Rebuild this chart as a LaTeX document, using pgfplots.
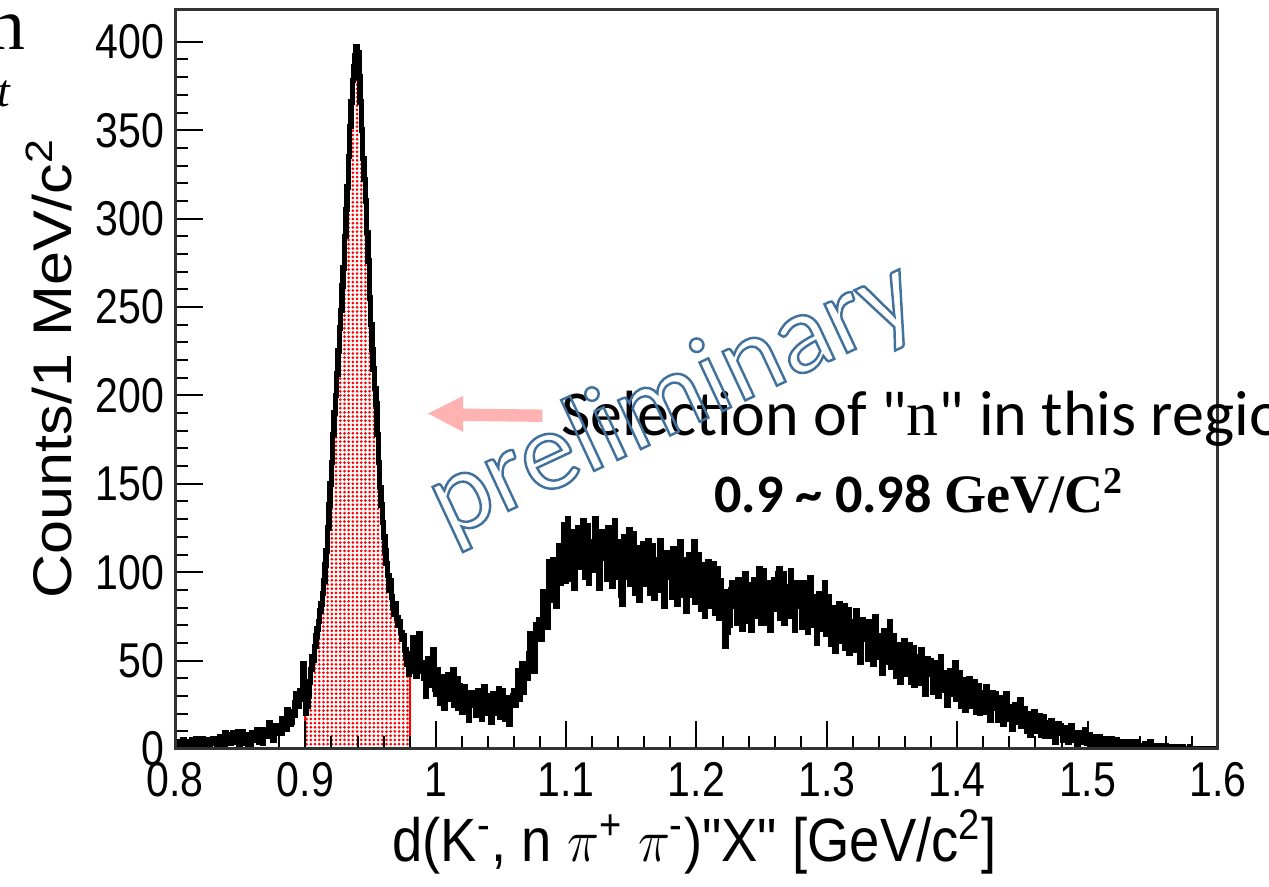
\documentclass[border=0pt]{standalone}
\usepackage{fontspec}
\usepackage{pgfplots}
\usepackage{pgfplotstable}
\pgfplotsset{compat=1.18}
\usetikzlibrary{patterns.meta}

\newfontfamily\rootsans{Liberation Sans}
\newfontfamily\calibri{Carlito}
\newfontfamily\cambria{Liberation Serif}

\definecolor{arrowpink}{RGB}{255,178,178}
\definecolor{prelblue}{RGB}{65,113,156}

% counts per 1 MeV/c^2 bin; one row of ten bins per 10 MeV, from 0.800 up to 1.600
\pgfplotstableread[row sep=\\]{
counts\\
2\\ 0\\ 3\\ 4\\ 1\\ 2\\ 5\\ 1\\ 3\\ 2\\
4\\ 2\\ 1\\ 5\\ 3\\ 2\\ 6\\ 3\\ 1\\ 4\\
3\\ 6\\ 4\\ 2\\ 3\\ 5\\ 1\\ 5\\ 4\\ 6\\
5\\ 3\\ 1\\ 6\\ 7\\ 3\\ 4\\ 2\\ 9\\ 3\\
8\\ 5\\ 3\\ 6\\ 9\\ 4\\ 5\\ 4\\ 10\\ 2\\
5\\ 10\\ 7\\ 3\\ 6\\ 8\\ 2\\ 8\\ 7\\ 9\\
9\\ 5\\ 8\\ 11\\ 4\\ 7\\ 11\\ 3\\ 9\\ 7\\
7\\ 11\\ 15\\ 8\\ 10\\ 5\\ 12\\ 13\\ 9\\ 12\\
11\\ 9\\ 17\\ 13\\ 17\\ 11\\ 22\\ 21\\ 14\\ 15\\
21\\ 19\\ 26\\ 31\\ 24\\ 28\\ 33\\ 30\\ 48\\ 28\\
20\\ 24\\ 30\\ 38\\ 45\\ 52\\ 50\\ 58\\ 64\\ 68\\
72\\ 78\\ 82\\ 88\\ 95\\ 104\\ 112\\ 125\\ 138\\ 150\\
162\\ 178\\ 190\\ 200\\ 212\\ 225\\ 238\\ 248\\ 262\\ 272\\
290\\ 305\\ 318\\ 335\\ 352\\ 366\\ 378\\ 386\\ 392\\ 397\\
394\\ 380\\ 366\\ 350\\ 334\\ 322\\ 310\\ 292\\ 276\\ 255\\
240\\ 226\\ 215\\ 204\\ 195\\ 178\\ 162\\ 148\\ 138\\ 128\\
120\\ 112\\ 105\\ 98\\ 90\\ 95\\ 86\\ 80\\ 76\\ 82\\
74\\ 70\\ 72\\ 66\\ 62\\ 64\\ 56\\ 52\\ 48\\ 42\\
54\\ 44\\ 63\\ 49\\ 58\\ 41\\ 53\\ 65\\ 47\\ 44\\
49\\ 40\\ 30\\ 46\\ 51\\ 36\\ 43\\ 39\\ 56\\ 34\\
31\\ 45\\ 37\\ 26\\ 34\\ 41\\ 23\\ 40\\ 37\\ 42\\
38\\ 28\\ 34\\ 45\\ 25\\ 32\\ 40\\ 23\\ 36\\ 31\\
21\\ 29\\ 35\\ 22\\ 28\\ 16\\ 30\\ 32\\ 25\\ 30\\
27\\ 19\\ 33\\ 23\\ 29\\ 17\\ 26\\ 35\\ 21\\ 20\\
30\\ 23\\ 15\\ 27\\ 31\\ 20\\ 25\\ 22\\ 34\\ 18\\
21\\ 33\\ 26\\ 17\\ 23\\ 29\\ 14\\ 28\\ 26\\ 30\\
33\\ 25\\ 33\\ 44\\ 28\\ 37\\ 48\\ 32\\ 47\\ 44\\
40\\ 54\\ 65\\ 48\\ 59\\ 44\\ 65\\ 70\\ 62\\ 73\\
73\\ 62\\ 89\\ 74\\ 88\\ 69\\ 88\\ 106\\ 85\\ 84\\
107\\ 94\\ 81\\ 106\\ 115\\ 94\\ 105\\ 100\\ 127\\ 95\\
106\\ 130\\ 116\\ 96\\ 110\\ 123\\ 91\\ 121\\ 115\\ 125\\
120\\ 103\\ 114\\ 129\\ 97\\ 111\\ 126\\ 94\\ 117\\ 108\\
101\\ 116\\ 130\\ 103\\ 115\\ 91\\ 118\\ 123\\ 108\\ 120\\
112\\ 96\\ 125\\ 105\\ 118\\ 92\\ 111\\ 129\\ 102\\ 97\\
117\\ 103\\ 87\\ 82\\ 120\\ 97\\ 107\\ 101\\ 124\\ 93\\
98\\ 122\\ 108\\ 88\\ 102\\ 114\\ 84\\ 113\\ 107\\ 116\\
110\\ 93\\ 104\\ 118\\ 88\\ 101\\ 115\\ 85\\ 107\\ 98\\
90\\ 105\\ 118\\ 92\\ 104\\ 81\\ 107\\ 111\\ 97\\ 109\\
101\\ 86\\ 113\\ 94\\ 106\\ 82\\ 100\\ 117\\ 91\\ 87\\
107\\ 93\\ 78\\ 102\\ 110\\ 87\\ 97\\ 91\\ 117\\ 83\\
88\\ 110\\ 98\\ 79\\ 92\\ 104\\ 75\\ 103\\ 97\\ 106\\
98\\ 81\\ 92\\ 105\\ 77\\ 89\\ 102\\ 74\\ 95\\ 86\\
75\\ 89\\ 58\\ 66\\ 88\\ 70\\ 90\\ 94\\ 81\\ 92\\
85\\ 71\\ 96\\ 78\\ 89\\ 68\\ 84\\ 99\\ 76\\ 72\\
93\\ 80\\ 67\\ 88\\ 96\\ 75\\ 84\\ 78\\ 102\\ 71\\
80\\ 101\\ 89\\ 71\\ 83\\ 94\\ 67\\ 93\\ 88\\ 96\\
94\\ 79\\ 99\\ 102\\ 74\\ 86\\ 99\\ 71\\ 92\\ 83\\
75\\ 89\\ 101\\ 77\\ 88\\ 67\\ 90\\ 94\\ 81\\ 92\\
83\\ 69\\ 94\\ 76\\ 87\\ 66\\ 82\\ 97\\ 74\\ 70\\
86\\ 73\\ 60\\ 81\\ 88\\ 68\\ 77\\ 72\\ 94\\ 65\\
67\\ 86\\ 75\\ 59\\ 70\\ 80\\ 55\\ 80\\ 75\\ 82\\
75\\ 61\\ 70\\ 81\\ 57\\ 67\\ 79\\ 54\\ 72\\ 65\\
56\\ 68\\ 78\\ 58\\ 67\\ 49\\ 70\\ 73\\ 62\\ 71\\
62\\ 51\\ 72\\ 57\\ 66\\ 48\\ 62\\ 75\\ 55\\ 52\\
64\\ 54\\ 43\\ 61\\ 67\\ 49\\ 57\\ 52\\ 72\\ 46\\
48\\ 64\\ 55\\ 41\\ 51\\ 59\\ 38\\ 58\\ 54\\ 61\\
54\\ 42\\ 49\\ 59\\ 38\\ 47\\ 57\\ 36\\ 52\\ 45\\
37\\ 47\\ 56\\ 39\\ 47\\ 31\\ 49\\ 51\\ 42\\ 50\\
42\\ 32\\ 49\\ 37\\ 45\\ 30\\ 41\\ 52\\ 36\\ 33\\
43\\ 34\\ 25\\ 40\\ 44\\ 31\\ 37\\ 33\\ 49\\ 28\\
30\\ 43\\ 35\\ 24\\ 32\\ 39\\ 22\\ 38\\ 35\\ 40\\
33\\ 24\\ 30\\ 38\\ 21\\ 28\\ 36\\ 20\\ 32\\ 27\\
21\\ 29\\ 35\\ 22\\ 28\\ 16\\ 30\\ 32\\ 24\\ 31\\
23\\ 16\\ 29\\ 20\\ 26\\ 14\\ 23\\ 31\\ 19\\ 17\\
24\\ 18\\ 11\\ 22\\ 25\\ 15\\ 19\\ 17\\ 28\\ 13\\
14\\ 23\\ 18\\ 10\\ 15\\ 20\\ 8\\ 20\\ 17\\ 21\\
16\\ 10\\ 14\\ 19\\ 8\\ 13\\ 18\\ 7\\ 15\\ 12\\
7\\ 12\\ 16\\ 7\\ 11\\ 4\\ 12\\ 14\\ 9\\ 13\\
9\\ 5\\ 12\\ 7\\ 10\\ 4\\ 9\\ 13\\ 6\\ 5\\
9\\ 5\\ 2\\ 7\\ 9\\ 4\\ 6\\ 5\\ 11\\ 3\\
3\\ 8\\ 5\\ 1\\ 4\\ 7\\ 0\\ 6\\ 5\\ 7\\
5\\ 2\\ 4\\ 6\\ 1\\ 3\\ 6\\ 0\\ 4\\ 3\\
1\\ 3\\ 5\\ 1\\ 3\\ 0\\ 4\\ 4\\ 2\\ 4\\
2\\ 0\\ 4\\ 1\\ 3\\ 0\\ 2\\ 4\\ 1\\ 0\\
2\\ 1\\ 0\\ 2\\ 3\\ 0\\ 1\\ 1\\ 4\\ 0\\
0\\ 2\\ 1\\ 0\\ 1\\ 2\\ 0\\ 1\\ 1\\ 2\\
0\\ 1\\ 0\\ 1\\ 0\\ 0\\ 1\\ 0\\ 0\\ 1\\
0\\ 0\\ 1\\ 0\\ 0\\ 0\\ 0\\ 0\\ 1\\ 0\\
0\\ 0\\ 0\\ 0\\ 0\\ 0\\ 0\\ 0\\ 0\\ 0\\
0\\ 0\\ 0\\ 0\\ 0\\ 0\\ 0\\ 0\\ 0\\ 0\\
0\\
}\histtable

\begin{document}
\begin{tikzpicture}
\useasboundingbox (0,0) rectangle (12.69cm,8.87cm);
\clip (0,0) rectangle (12.69cm,8.87cm);

\begin{axis}[
  at={(1.75cm,1.38cm)}, anchor=south west,
  scale only axis, width=10.43cm, height=7.39cm,
  xmin=0.8, xmax=1.6, ymin=0, ymax=418,
  xtick={0.8,0.9,...,1.6}, ytick={0,50,...,400},
  minor x tick num=4, minor y tick num=4,
  tick align=inside, xtick pos=bottom, ytick pos=left,
  major tick length=0.28cm, minor tick length=0.13cm,
  tick style={black, line width=0.02cm},
  axis line style={black!80, line width=0.03cm},
  axis on top,
  /pgf/number format/assume math mode=true,
  tick label style={font=\rootsans\fontsize{13.9pt}{14pt}\selectfont, xscale=0.84, inner sep=0pt},
  xticklabel style={anchor=base, yshift=-0.48cm},
  yticklabel style={anchor=east, xshift=-0.12cm},
]
% selected neutron window, 0.90 to 0.98 GeV/c^2
\addplot[const plot mark left, draw=red, line width=0.02cm,
  pattern={Dots[radius=0.015cm, distance=0.042cm]}, pattern color=red,
  skip coords between index={0}{100}, skip coords between index={181}{801}]
  table[x expr=0.8+0.001*\coordindex, y=counts] {\histtable} \closedcycle;
% full missing-mass spectrum
\addplot[const plot mark left, black, line width=0.055cm]
  table[x expr=0.8+0.001*\coordindex, y=counts] {\histtable};
\end{axis}

\begin{scope}[x=0.01cm, y=0.01cm]
% axis titles
\node[anchor=base, inner sep=0pt, xscale=0.89,
  font=\rootsans\fontsize{17.4pt}{18pt}\selectfont] at (695,25)
  {d(K\textsuperscript{-}, n $\pi$\textsuperscript{+} $\pi$\textsuperscript{-})"X" [GeV/c\textsuperscript{2}]};
\node[anchor=base, inner sep=0pt, rotate=90, yscale=0.89,
  font=\rootsans\fontsize{17.4pt}{18pt}\selectfont] at (72,519)
  {Counts/1 MeV/c\textsuperscript{2}};

% text running in from the slide's left margin
\node[anchor=base east, inner sep=0pt, font=\cambria\fontsize{21pt}{21pt}\selectfont] at (26,838) {n};
\node[anchor=base east, inner sep=0pt, font=\cambria\itshape\fontsize{13pt}{13pt}\selectfont] at (11,781) {t};

% annotation of the selected window
\fill[arrowpink] (428.3,473.7) -- (463.3,491.3) -- (463.3,478.7) -- (542.7,477.7)
  -- (542.7,465.3) -- (463.3,466.3) -- (463.3,455.3) -- cycle;
\node[anchor=base west, inner sep=0pt, font=\calibri\fontsize{18.2pt}{18pt}\selectfont] at (561,452)
  {Selection of "{\cambria n}" in this region};
\node[anchor=base west, inner sep=0pt, font=\bfseries\fontsize{15.4pt}{15pt}\selectfont] at (714,375)
  {{\calibri 0.9 \textasciitilde{} 0.98 }{\cambria GeV/C\textsuperscript{2}}};

% outlined watermark
\node[rotate=25, anchor=base, inner sep=0pt, text=prelblue,
  font=\calibri\fontsize{32pt}{32pt}\selectfont] at (686,459)
  {\special{pdf:literal direct 1 Tr 0.7 w}preliminary\special{pdf:literal direct 0 Tr}};
\end{scope}
\end{tikzpicture}
\end{document}
